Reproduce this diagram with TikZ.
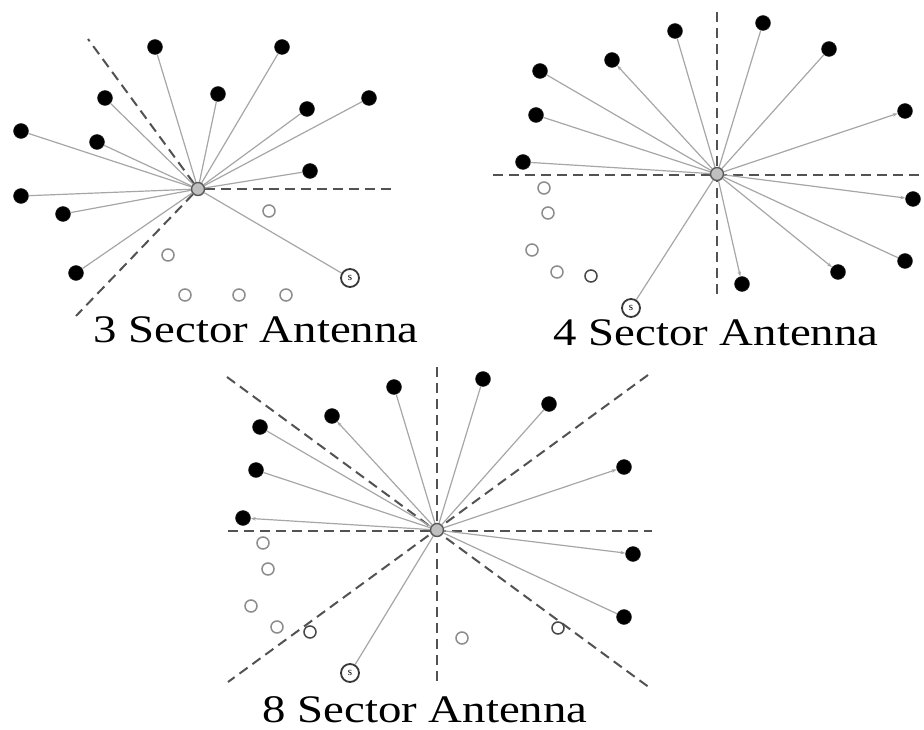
\documentclass[tikz,border=0pt]{standalone}
\usepackage{fontspec}
\setmainfont{Liberation Serif}
\usepackage{graphicx}
\usetikzlibrary{arrows.meta}
\begin{document}
\begin{tikzpicture}[x=1pt,y=-1pt,
 blackdot/.style={circle,fill=black,draw=black!85,inner sep=0pt,minimum size=15pt},
 opendot/.style={circle,draw=black!45,line width=1.5pt,fill=white,inner sep=0pt,minimum size=12pt},
 darkopen/.style={opendot,draw=black!72},
 hub/.style={circle,fill=black!25,draw=black!65,line width=1.4pt,inner sep=0pt,minimum size=13pt},
 srcdot/.style={circle,draw=black!78,line width=1.8pt,fill=white,inner sep=0pt,minimum size=18pt,font=\fontsize{11}{11}\selectfont},
 link/.style={draw=black!35,line width=1.2pt},
 tiplink/.style={link,-{Stealth[length=5pt,width=3.5pt]}},
 sector/.style={draw=black!68,line width=2pt,dash pattern=on 10pt off 6pt},
 caption/.style={font=\fontsize{39}{39}\selectfont,inner sep=0pt,anchor=base}
]
\useasboundingbox (0,0) rectangle (924,730);

% ---------------- 3 sector ----------------
\coordinate (d1a) at (88,39);
\coordinate (d1b) at (392,189);
\coordinate (d1c) at (76,316);
\node[hub] (c1) at (198,189) {};
\draw[sector] (c1) -- (d1a);
\draw[sector] (c1) -- (d1b);
\draw[sector] (c1) -- (d1c);
\foreach \p [count=\i] in {(155,47),(282,47),(105,98),(218,94),(307,109),(369,98),(21,131),(97,142),(310,171),(21,196),(63,214),(76,273)}
 {\node[blackdot] (b1-\i) at \p {}; \draw[link] (c1) -- (b1-\i);}
\foreach \p [count=\i] in {(269,211),(168,255),(185,295),(239,295),(286,295)}
 \node[opendot] (o1-\i) at \p {};
\node[srcdot] (s1) at (350,278) {s};
\draw[link] (c1) -- (s1);
\node[caption] (t1) at (256,342) {\scalebox{1.2}[1]{3 Sector Antenna}};

% ---------------- 4 sector ----------------
\coordinate (d2l) at (493,175);
\coordinate (d2r) at (923,175);
\coordinate (d2t) at (717,12);
\coordinate (d2b) at (717,297);
\draw[sector] (d2l) -- (d2r);
\draw[sector] (d2t) -- (d2b);
\node[hub] (c2) at (717,174) {};
\foreach \p/\s [count=\i] in {(675,31)/link,(763,23)/link,(829,49)/link,(612,60)/tiplink,(540,71)/link,(536,115)/link,(905,111)/tiplink,(523,162)/link,(913,199)/tiplink,(905,261)/link,(838,272)/tiplink,(742,284)/tiplink}
 {\node[blackdot] (b2-\i) at \p {}; \draw[\s] (c2) -- (b2-\i);}
\foreach \p [count=\i] in {(544,188),(548,213),(532,250),(557,272)}
 \node[opendot] (o2-\i) at \p {};
\node[darkopen] (o2-5) at (591,276) {};
\node[srcdot] (s2) at (631,308) {s};
\draw[link] (c2) -- (s2);
\node[caption] (t2) at (716,345) {\scalebox{1.2}[1]{4 Sector Antenna}};

% ---------------- 8 sector ----------------
\coordinate (d3l) at (228,531);
\coordinate (d3r) at (652,531);
\coordinate (d3t) at (437,367);
\coordinate (d3b) at (437,683);
\coordinate (d3a) at (227,377);
\coordinate (d3c) at (650,688);
\coordinate (d3d) at (648,375);
\coordinate (d3e) at (228,682);
\draw[sector] (d3l) -- (d3r);
\draw[sector] (d3t) -- (d3b);
\draw[sector] (d3a) -- (d3c);
\draw[sector] (d3d) -- (d3e);
\node[hub] (c3) at (437,530) {};
\foreach \p/\s [count=\i] in {(394,387)/link,(483,379)/link,(549,404)/link,(332,416)/tiplink,(260,427)/link,(256,470)/link,(624,467)/tiplink,(243,518)/tiplink,(633,554)/tiplink,(624,617)/link}
 {\node[blackdot] (b3-\i) at \p {}; \draw[\s] (c3) -- (b3-\i);}
\foreach \p [count=\i] in {(263,543),(268,569),(251,606),(277,627),(462,638)}
 \node[opendot] (o3-\i) at \p {};
\node[darkopen] (o3-6) at (310,632) {};
\node[darkopen] (o3-7) at (558,628) {};
\node[srcdot] (s3) at (350,673) {s};
\draw[link] (c3) -- (s3);
\node[caption] (t3) at (425,722) {\scalebox{1.2}[1]{8 Sector Antenna}};
\end{tikzpicture}
\end{document}
